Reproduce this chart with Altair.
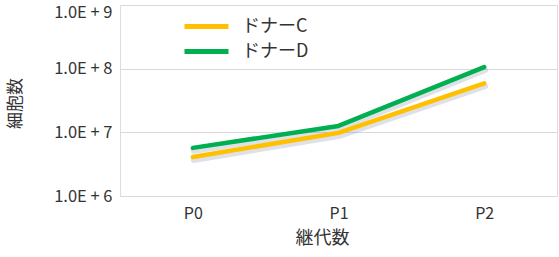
import altair as alt
import pandas as pd

passages = ["P0", "P1", "P2"]
donor_c = [4.1e6, 9.8e6, 5.9e7]
donor_d = [5.7e6, 1.26e7, 1.06e8]
series_names = ["ドナーC", "ドナーD"]
series_colors = ["#FFC000", "#00B050"]
y_ticks = [1e6, 1e7, 1e8, 1e9]

rows = []
for name, vals in zip(series_names, [donor_c, donor_d]):
    for p, v in zip(passages, vals):
        rows.append({"継代": p, "細胞数": v, "系列": name})
df = pd.DataFrame(rows)

FONT = "Noto Sans CJK JP"
TXT = "#333333"

x = alt.X("継代:N", sort=passages, scale=alt.Scale(type="point", padding=0.5),
          axis=alt.Axis(title="継代数", labelAngle=0, domain=False, ticks=False,
                        labelPadding=9, titlePadding=8, labelFontSize=16,
                        titleFontSize=18, labelColor=TXT, titleColor=TXT,
                        titleX=202, labelFont=FONT, titleFont=FONT, titleFontWeight="normal"))
y = alt.Y("細胞数:Q", scale=alt.Scale(type="log", domain=[1e6, 1e9]),
          axis=alt.Axis(title="細胞数", values=y_ticks, domain=False, ticks=False,
                        labelExpr="'1.0E + ' + format(log(datum.value)/LN10, 'd')",
                        labelOffset={"expr": "datum.value >= 1e9 ? 7 : 0"},
                        labelPadding=8, labelFontSize=16.5, titleFontSize=17,
                        labelColor=TXT, titleColor=TXT, gridColor="#d9d9d9",
                        titleX=-105, titleY=98, titleAngle=270, titleBaseline="middle",
                        labelFont=FONT, titleFont=FONT, titleFontWeight="normal"))

shadow = alt.Chart(df).mark_line(strokeWidth=6, opacity=0.25, color="#7f86a6",
                                 xOffset=1, yOffset=3, strokeCap="round").encode(
    x=x, y=y, detail="系列:N")

lines = alt.Chart(df).mark_line(strokeWidth=4.5, strokeCap="round", strokeJoin="round").encode(
    x=x, y=y,
    color=alt.Color("系列:N", sort=series_names,
                    scale=alt.Scale(domain=series_names, range=series_colors),
                    legend=alt.Legend(title=None, orient="none", legendX=76, legendY=11,
                                      symbolType="M-2.75,0H2.75", symbolSize=256,
                                      symbolStrokeWidth=5, labelFontSize=18,
                                      labelFont=FONT, labelColor=TXT,
                                      labelOffset=25, rowPadding=4, padding=0)))

chart = alt.layer(shadow, lines).properties(
    width=437, height=191,
    autosize=alt.AutoSizeParams(type="none"),
    padding={"left": 120, "top": 5, "right": 2, "bottom": 61},
).configure_view(stroke=None).configure(background="white")

chart.save("out.html", embed_options={"renderer": "svg", "actions": False})
